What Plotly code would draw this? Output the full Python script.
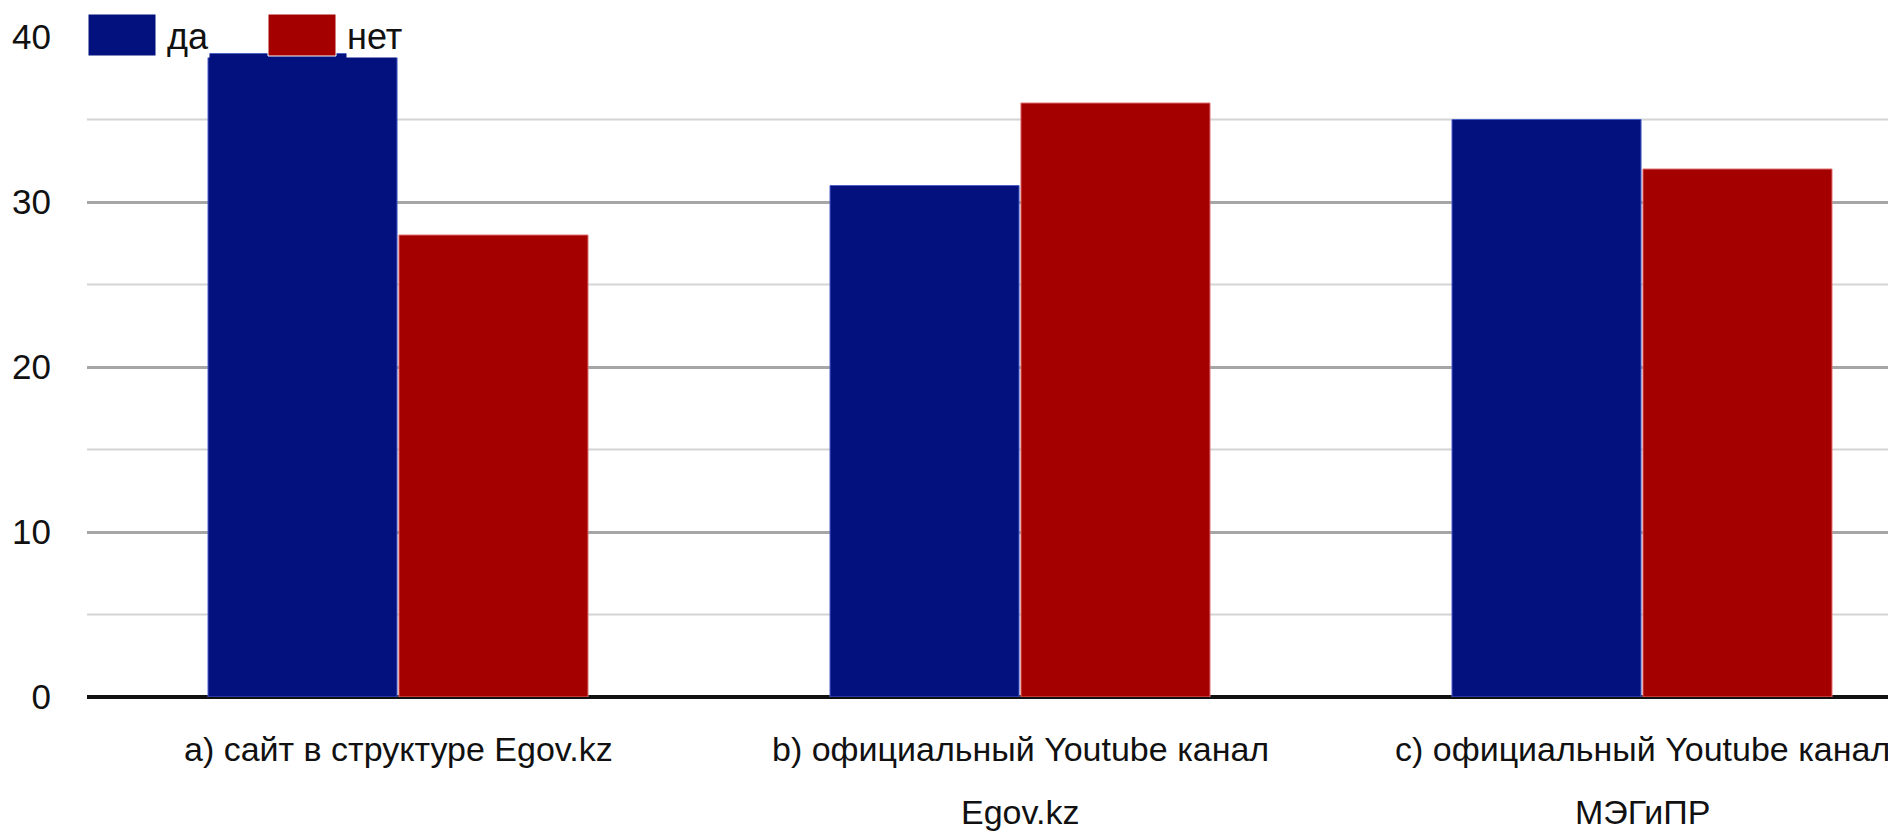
import plotly.graph_objects as go

categories = ["a) сайт в структуре Egov.kz",
              "b) официальный Youtube канал\nEgov.kz",
              "c) официальный Youtube канал\nМЭГиПР"]
series_names = ["да", "нет"]
values_da = [39, 31, 35]
values_net = [28, 36, 32]
y_ticks = [0, 10, 20, 30, 40]
y_minor = [5, 15, 25, 35]

BLUE = "#03117e"
RED = "#a40000"
FONT = "Liberation Sans, Arial, Helvetica, sans-serif"

OFF = 8  # default page body margin
W, H = 1896 - OFF, 832 - OFF
ML, MR, MT = 87 - OFF, 0, 37 - OFF
MB = H - (697 - OFF)
PW, PH = W - ML - MR, H - MT - MB

xs = list(range(len(categories)))

fig = go.Figure()
fig.add_trace(go.Bar(x=xs, y=values_da, name=series_names[0],
                     marker=dict(color=BLUE, line=dict(color="#4a5fc8", width=1)),
                     showlegend=False))
fig.add_trace(go.Bar(x=xs, y=values_net, name=series_names[1],
                     marker=dict(color=RED, line=dict(color="#e07070", width=1)),
                     showlegend=False))

# minor gridlines
for v in y_minor:
    fig.add_shape(type="line", xref="paper", yref="y", x0=0, x1=1, y0=v, y1=v,
                  line=dict(color="#d4d4d4", width=2), layer="below")

def px_x(p):
    return (p - OFF - ML) / PW

def px_y(p):
    return (H - MB - (p - OFF)) / PH

# category labels (two-line, wide line spacing)
line_centers = [749, 812]
for i, cat in enumerate(categories):
    for j, line in enumerate(cat.split("\n")):
        fig.add_annotation(xref="x", yref="paper", x=xs[i], y=px_y(line_centers[j]),
                           xanchor="center", yanchor="middle", text=line,
                           showarrow=False, font=dict(family=FONT, size=34, color="#111"))

# manual legend
leg = [(88, 156, 166, BLUE, series_names[0]), (268, 336, 346, RED, series_names[1])]
for x0, x1, tx, col, name in leg:
    fig.add_shape(type="rect", xref="paper", yref="paper",
                  x0=px_x(x0), x1=px_x(x1), y0=px_y(56), y1=px_y(14),
                  fillcolor=col, line=dict(color="white", width=1), layer="above")
    fig.add_annotation(xref="paper", yref="paper", x=px_x(tx), y=px_y(36),
                       xanchor="left", yanchor="middle", text=name, showarrow=False,
                       font=dict(family=FONT, size=36, color="#111"),
                       bgcolor="white", borderpad=0)

fig.update_layout(
    width=W, height=H,
    margin=dict(l=ML, r=MR, t=MT, b=MB, pad=0, autoexpand=False),
    paper_bgcolor="white", plot_bgcolor="white",
    barmode="group", bargap=0.386, bargroupgap=0.01,
    font=dict(family=FONT, color="#111"),
    xaxis=dict(range=[-0.5, PW / 622.0 - 0.5], tickmode="array",
               tickvals=xs, showticklabels=False, showgrid=False, zeroline=False,
               ticks="", showline=False, fixedrange=True, automargin=False),
    yaxis=dict(range=[0, 40], tickmode="array", tickvals=y_ticks,
               tickfont=dict(size=35), showgrid=True, gridcolor="#a6a6a6", gridwidth=3,
               zeroline=True, zerolinecolor="#111", zerolinewidth=4,
               ticks="outside", ticklen=28, tickcolor="rgba(0,0,0,0)",
               showline=False, automargin=False),
)

fig.write_html("out.html")
